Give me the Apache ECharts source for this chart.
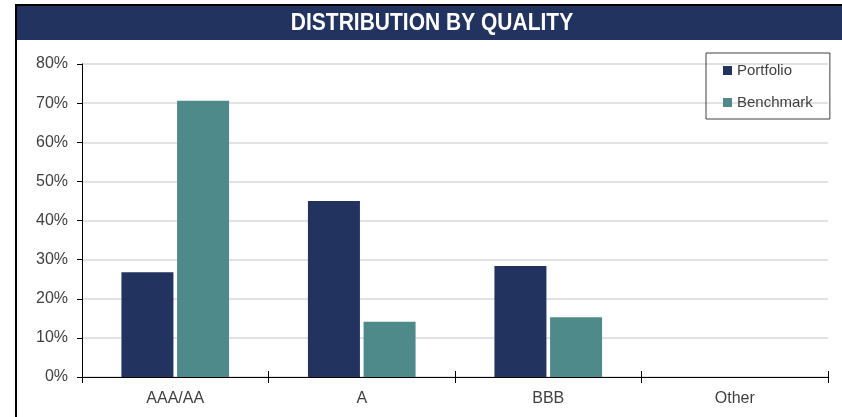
<!DOCTYPE html>
<html>
<head>
<meta charset="utf-8">
<script src="https://cdn.jsdelivr.net/npm/echarts@6/dist/echarts.min.js"></script>
<style>
  html, body { margin: 0; padding: 0; background: #fff; }
  #chart { width: 842px; height: 417px; }
</style>
</head>
<body>
<div id="chart"></div>
<script>
// 数据
var categories = ['AAA/AA', 'A', 'BBB', 'Other'];
var portfolio = [26.8, 45.0, 28.4, null];
var benchmark = [70.6, 14.1, 15.3, null];
var yTicks = { min: 0, max: 80, interval: 10 };

var chartDom = document.getElementById('chart');
var myChart = echarts.init(chartDom);

var labelFont = 'Liberation Sans, Arial, sans-serif';

var option = {
  animation: false,
  graphic: [
    // 标题栏
    { type: 'rect', shape: { x: 16, y: 6, width: 830, height: 34 }, style: { fill: '#22335f' } },
    { type: 'line', shape: { x1: 15, y1: 5, x2: 842, y2: 5 }, style: { stroke: '#000', lineWidth: 2 } },
    { type: 'line', shape: { x1: 16, y1: 4, x2: 16, y2: 417 }, style: { stroke: '#000', lineWidth: 2 } },
    {
      type: 'text', x: 432, y: 24, scaleY: 1.12,
      style: {
        text: 'DISTRIBUTION BY QUALITY',
        fill: '#fff',
        align: 'center',
        verticalAlign: 'middle',
        font: 'bold 21px "Liberation Sans", Arial, sans-serif'
      }
    }
  ],
  legend: {
    orient: 'vertical',
    left: 706,
    top: 53,
    width: 124,
    padding: [10, 17, 9, 17],
    itemGap: 17,
    itemWidth: 9,
    itemHeight: 9,
    icon: 'rect',
    borderColor: '#404040',
    borderWidth: 1,
    textStyle: { fontFamily: labelFont, fontSize: 15, color: '#404040' },
    data: ['Portfolio', 'Benchmark']
  },
  grid: { left: 82, right: 14, top: 64, bottom: 40 },
  xAxis: [
    {
      type: 'category',
      data: categories,
      axisLine: { lineStyle: { color: '#000', width: 1 } },
      axisTick: { show: true, length: 6, lineStyle: { color: '#000' } },
      axisLabel: { margin: 14, fontFamily: labelFont, fontSize: 16, color: '#404040' }
    },
    {
      type: 'category',
      data: categories,
      position: 'bottom',
      axisLine: { show: false },
      axisTick: { show: true, inside: true, length: 6, lineStyle: { color: '#000' } },
      axisLabel: { show: false }
    }
  ],
  yAxis: {
    type: 'value',
    min: yTicks.min,
    max: yTicks.max,
    interval: yTicks.interval,
    axisLine: { show: true, lineStyle: { color: '#000', width: 1 } },
    axisTick: { show: true, length: 5, lineStyle: { color: '#000' } },
    axisLabel: { margin: 14, formatter: '{value}%', fontFamily: labelFont, fontSize: 16, color: '#404040' },
    splitLine: { lineStyle: { color: '#d9d9d9', width: 1.5 } }
  },
  series: [
    {
      name: 'Portfolio',
      type: 'bar',
      barWidth: 52,
      barGap: '7%',
      itemStyle: { color: '#22335f' },
      data: portfolio
    },
    {
      name: 'Benchmark',
      type: 'bar',
      barWidth: 52,
      barGap: '7%',
      itemStyle: { color: '#4e8a8a' },
      data: benchmark
    }
  ]
};

myChart.setOption(option);
</script>
</body>
</html>
